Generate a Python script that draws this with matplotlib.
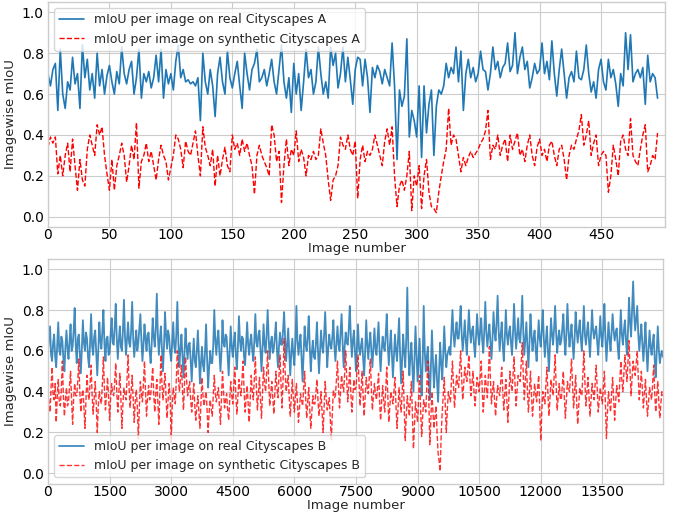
"""Imagewise mIoU on real vs. synthetic Cityscapes (A: val set, B: large set)."""

import numpy as np
import matplotlib
matplotlib.use("Agg")
import matplotlib.pyplot as plt

# --- data (mIoU x100) ---
# set A: every 2nd image, 0..496
step_a = 2
real_a = [
    70, 64, 72, 75, 52, 82, 60, 53, 66, 62,
    78, 65, 70, 53, 84, 68, 77, 62, 70, 58,
    80, 64, 72, 60, 69, 74, 66, 60, 71, 65,
    83, 70, 65, 72, 76, 60, 68, 82, 58, 70,
    66, 71, 63, 68, 79, 66, 82, 58, 72, 65,
    70, 62, 76, 84, 68, 72, 66, 67, 65, 66,
    64, 68, 47, 80, 66, 60, 72, 64, 49, 70,
    78, 66, 60, 81, 68, 63, 70, 76, 64, 53,
    80, 70, 62, 72, 75, 82, 66, 68, 72, 64,
    70, 77, 66, 60, 72, 84, 66, 58, 68, 51,
    75, 60, 70, 52, 66, 82, 68, 72, 60, 66,
    83, 70, 60, 66, 58, 83, 74, 80, 63, 70,
    83, 66, 78, 67, 55, 72, 78, 77, 64, 77,
    68, 51, 73, 68, 74, 71, 65, 72, 68, 64,
    85, 64, 28, 62, 54, 59, 87, 39, 52, 47,
    39, 64, 29, 64, 41, 55, 62, 30, 54, 62,
    60, 64, 75, 68, 73, 70, 83, 66, 81, 52,
    70, 77, 68, 73, 66, 70, 81, 72, 71, 62,
    70, 83, 72, 76, 68, 73, 75, 85, 71, 74,
    90, 70, 78, 83, 72, 76, 63, 68, 75, 70,
    72, 85, 70, 76, 67, 86, 70, 59, 72, 82,
    70, 58, 68, 71, 66, 81, 68, 67, 72, 84,
    70, 61, 66, 58, 72, 77, 66, 62, 77, 68,
    72, 65, 54, 70, 64, 90, 72, 89, 66, 70,
    72, 68, 73, 55, 79, 66, 70, 68, 58,
]
synth_a = [
    34, 39, 36, 39, 21, 30, 20, 30, 36, 22,
    38, 25, 13, 28, 18, 15, 33, 40, 35, 30,
    45, 40, 44, 30, 21, 13, 28, 13, 25, 30,
    36, 30, 17, 25, 35, 28, 46, 14, 27, 30,
    36, 27, 32, 25, 18, 28, 35, 30, 27, 18,
    24, 30, 40, 38, 33, 24, 37, 32, 30, 36,
    42, 30, 20, 44, 34, 30, 25, 33, 15, 30,
    20, 28, 34, 25, 22, 40, 33, 36, 30, 38,
    32, 36, 30, 25, 11, 30, 35, 30, 27, 24,
    20, 45, 40, 27, 32, 7, 25, 38, 25, 33,
    30, 42, 27, 33, 29, 20, 30, 28, 32, 28,
    30, 43, 36, 30, 18, 8, 18, 20, 25, 39,
    35, 33, 40, 33, 30, 37, 9, 28, 35, 27,
    32, 30, 33, 40, 35, 30, 25, 37, 43, 35,
    44, 20, 5, 15, 18, 13, 20, 32, 3, 20,
    15, 25, 4, 20, 28, 12, 5, 4, 2, 12,
    20, 27, 33, 53, 35, 40, 38, 30, 22, 29,
    25, 29, 32, 29, 31, 33, 36, 38, 42, 52,
    28, 35, 33, 40, 30, 35, 38, 27, 40, 33,
    37, 41, 30, 33, 27, 35, 40, 30, 25, 34,
    38, 30, 33, 27, 35, 37, 30, 25, 33, 35,
    28, 18, 30, 35, 33, 38, 42, 50, 35, 40,
    47, 30, 36, 40, 25, 30, 32, 30, 12, 20,
    35, 28, 20, 37, 40, 33, 30, 48, 30, 27,
    25, 33, 40, 45, 22, 25, 30, 28, 41,
]

# set B: every 25th image, 0..14975
step_b = 25
real_b = [
    60, 66, 72, 58, 55, 64, 68, 57, 52, 63, 74, 60, 58, 67, 65, 56, 50, 62, 70, 61,
    56, 65, 73, 60, 62, 70, 81, 63, 54, 66, 68, 58, 49, 61, 75, 64, 60, 69, 66, 57,
    52, 64, 78, 62, 58, 67, 70, 59, 48, 60, 74, 65, 61, 70, 80, 63, 55, 66, 67, 58,
    59, 68, 76, 64, 63, 72, 83, 66, 56, 65, 72, 62, 60, 70, 85, 67, 58, 66, 74, 64,
    62, 70, 84, 66, 57, 64, 70, 60, 64, 71, 78, 65, 55, 63, 73, 66, 60, 68, 69, 60,
    54, 63, 76, 67, 62, 71, 88, 68, 58, 66, 72, 61, 50, 62, 79, 68, 61, 70, 67, 59,
    55, 64, 74, 62, 59, 68, 84, 64, 52, 61, 68, 58, 47, 59, 71, 62, 56, 63, 64, 55,
    45, 57, 66, 55, 52, 60, 70, 58, 44, 54, 62, 53, 50, 60, 73, 56, 42, 52, 60, 54,
    54, 63, 80, 65, 58, 66, 70, 59, 50, 60, 75, 64, 62, 68, 67, 57, 48, 60, 72, 62,
    57, 64, 69, 58, 51, 62, 77, 65, 60, 67, 66, 57, 53, 63, 74, 63, 58, 65, 68, 60,
    55, 65, 78, 64, 62, 68, 70, 60, 50, 61, 73, 63, 59, 68, 80, 66, 56, 64, 67, 59,
    61, 67, 74, 61, 52, 62, 69, 63, 63, 70, 79, 66, 55, 63, 71, 60, 48, 59, 66, 58,
    53, 64, 82, 65, 58, 64, 68, 56, 45, 58, 72, 63, 60, 67, 77, 62, 50, 59, 65, 57,
    56, 64, 74, 60, 49, 60, 70, 62, 59, 68, 79, 65, 52, 61, 68, 63, 61, 67, 75, 62,
    55, 64, 72, 63, 60, 69, 78, 64, 52, 62, 69, 64, 63, 71, 82, 67, 57, 65, 70, 60,
    50, 62, 73, 61, 58, 63, 66, 56, 48, 60, 75, 63, 56, 64, 69, 60, 52, 62, 71, 61,
    58, 66, 74, 60, 50, 60, 67, 62, 60, 68, 78, 63, 53, 62, 70, 58, 47, 58, 68, 60,
    55, 65, 76, 58, 44, 56, 68, 59, 52, 66, 91, 62, 48, 57, 64, 52, 40, 56, 72, 58,
    45, 56, 66, 50, 38, 55, 82, 60, 50, 57, 62, 48, 36, 52, 70, 55, 42, 51, 58, 45,
    35, 50, 64, 54, 46, 58, 72, 60, 52, 58, 60, 62, 58, 70, 80, 68, 62, 69, 74, 66,
    66, 73, 82, 68, 60, 67, 75, 65, 58, 69, 80, 70, 64, 70, 72, 63, 57, 67, 78, 68,
    63, 70, 76, 65, 59, 70, 84, 69, 62, 68, 73, 64, 56, 66, 79, 69, 65, 74, 87, 70,
    60, 68, 74, 63, 55, 66, 80, 68, 63, 69, 72, 64, 58, 69, 83, 70, 61, 68, 76, 66,
    64, 73, 87, 69, 58, 66, 74, 62, 52, 64, 78, 68, 60, 66, 70, 61, 55, 65, 75, 66,
    62, 70, 80, 66, 57, 65, 72, 60, 50, 63, 76, 68, 63, 71, 82, 69, 59, 66, 70, 63,
    65, 71, 78, 66, 58, 69, 83, 70, 62, 68, 73, 64, 56, 66, 79, 70, 64, 70, 75, 66,
    60, 70, 82, 68, 63, 69, 74, 65, 57, 68, 80, 70, 66, 70, 72, 64, 58, 67, 77, 67,
    62, 71, 83, 66, 55, 65, 74, 66, 60, 69, 78, 70, 65, 69, 71, 62, 56, 67, 80, 68,
    63, 70, 75, 65, 58, 70, 86, 74, 67, 80, 94, 78, 70, 76, 82, 68, 60, 67, 73, 63,
    55, 64, 74, 60, 50, 61, 70, 62, 58, 64, 68, 56, 47, 59, 72, 61, 54, 58, 60, 57,
]
synth_b = [
    40, 34, 30, 42, 52, 38, 36, 44, 25, 37, 46, 35, 33, 41, 55, 38, 28, 36, 42, 33,
    35, 43, 50, 36, 24, 37, 44, 38, 38, 45, 56, 40, 30, 38, 41, 33, 22, 36, 48, 39,
    36, 44, 53, 38, 29, 37, 45, 34, 20, 33, 40, 36, 34, 44, 57, 41, 31, 39, 47, 38,
    26, 37, 44, 39, 38, 45, 54, 40, 30, 40, 49, 37, 22, 34, 42, 38, 36, 46, 58, 42,
    32, 40, 48, 36, 25, 35, 41, 33, 17, 32, 45, 39, 35, 44, 55, 40, 28, 37, 43, 36,
    38, 45, 52, 39, 30, 39, 46, 35, 24, 40, 58, 44, 36, 43, 49, 37, 27, 36, 44, 37,
    15, 32, 42, 38, 34, 46, 60, 47, 40, 46, 53, 41, 31, 44, 57, 46, 38, 42, 45, 36,
    30, 37, 44, 33, 26, 33, 38, 30, 22, 35, 47, 38, 33, 37, 40, 31, 20, 30, 36, 32,
    28, 38, 48, 39, 35, 39, 42, 33, 24, 37, 50, 40, 32, 36, 39, 31, 26, 36, 45, 38,
    34, 43, 52, 38, 29, 38, 46, 41, 38, 46, 55, 41, 30, 37, 43, 34, 25, 37, 48, 40,
    36, 46, 57, 42, 31, 39, 47, 36, 27, 40, 52, 44, 40, 49, 60, 45, 33, 39, 45, 37,
    29, 40, 50, 42, 37, 47, 58, 44, 32, 46, 66, 50, 40, 44, 48, 37, 28, 37, 46, 37,
    30, 37, 44, 34, 25, 32, 39, 36, 33, 41, 50, 37, 27, 35, 42, 31, 22, 30, 38, 34,
    34, 40, 46, 36, 28, 34, 40, 30, 20, 33, 45, 37, 31, 34, 37, 27, 16, 30, 41, 37,
    38, 46, 55, 42, 32, 40, 48, 43, 40, 49, 60, 46, 35, 43, 52, 40, 30, 38, 46, 41,
    42, 50, 58, 44, 33, 41, 50, 38, 28, 38, 47, 42, 39, 47, 56, 42, 31, 38, 44, 39,
    36, 42, 49, 36, 26, 35, 43, 36, 30, 41, 52, 38, 25, 33, 40, 37, 34, 40, 47, 33,
    22, 32, 42, 35, 30, 40, 50, 32, 16, 28, 38, 33, 28, 37, 45, 28, 12, 24, 35, 30,
    25, 36, 48, 31, 18, 28, 36, 33, 30, 42, 55, 34, 14, 27, 40, 30, 22, 28, 33, 20,
    10, 6, 1, 18, 30, 38, 47, 33, 20, 31, 40, 37, 35, 45, 55, 43, 32, 40, 48, 44,
    42, 51, 60, 46, 36, 44, 52, 48, 45, 51, 58, 46, 38, 44, 50, 40, 33, 40, 47, 44,
    40, 47, 55, 41, 30, 39, 48, 42, 37, 48, 62, 46, 34, 40, 45, 36, 28, 36, 43, 40,
    38, 45, 52, 40, 31, 39, 46, 35, 25, 38, 50, 44, 40, 48, 57, 43, 33, 41, 48, 46,
    45, 54, 64, 48, 36, 46, 55, 41, 30, 40, 50, 38, 28, 36, 44, 39, 35, 42, 48, 32,
    16, 30, 40, 37, 34, 43, 52, 39, 28, 37, 46, 42, 38, 47, 58, 43, 31, 37, 44, 37,
    36, 43, 50, 37, 27, 36, 45, 42, 40, 48, 56, 43, 32, 40, 48, 35, 24, 33, 42, 39,
    38, 48, 60, 45, 33, 40, 47, 37, 28, 36, 44, 40, 36, 44, 53, 41, 30, 36, 42, 38,
    34, 42, 50, 33, 17, 30, 40, 35, 30, 39, 47, 36, 26, 35, 43, 39, 35, 45, 55, 46,
    40, 49, 58, 51, 45, 55, 65, 50, 38, 47, 55, 51, 48, 54, 60, 47, 36, 43, 50, 41,
    32, 39, 46, 36, 28, 35, 42, 39, 36, 44, 53, 40, 30, 38, 45, 35, 27, 34, 40, 38,
]

labels_a = ["mIoU per image on real Cityscapes A",
            "mIoU per image on synthetic Cityscapes A"]
labels_b = ["mIoU per image on real Cityscapes B",
            "mIoU per image on synthetic Cityscapes B"]
xticks_a = np.arange(0, 500, 50)
xticks_b = np.arange(0, 15000, 1500)


def style_axes(ax):
    ax.set_ylim(-0.05, 1.05)
    ax.set_xlabel("Image number", fontsize=9.5, labelpad=0)
    ax.set_ylabel("Imagewise mIoU", fontsize=9.5)
    ax.yaxis.set_label_coords(-0.05, 0.5)
    ax.tick_params(axis="both", labelsize=10, colors="black")
    ax.tick_params(axis="x", pad=1)
    ax.tick_params(axis="y", pad=3)


def main():
    plt.style.use("seaborn-v0_8-whitegrid")
    plt.rcParams["font.family"] = ["DejaVu Sans"]
    plt.rcParams["font.size"] = 10

    fig = plt.figure(figsize=(6.73, 5.13), dpi=100)
    ax1 = fig.add_axes([0.0713, 0.5575, 0.9167, 0.4385])
    ax2 = fig.add_axes([0.0713, 0.0575, 0.9137, 0.4376])

    # top: set A
    xa = np.arange(len(real_a)) * step_a
    ax1.plot(xa, np.array(real_a) / 100, color="tab:blue", lw=1.2,
             label=labels_a[0])
    ax1.plot(xa, np.array(synth_a) / 100, "r--", lw=1.0, label=labels_a[1])
    ax1.set_xlim(0, 502)
    ax1.set_xticks(xticks_a)
    style_axes(ax1)
    ax1.legend(loc="upper left", frameon=True, fontsize=9)

    # bottom: set B
    xb = np.arange(len(real_b)) * step_b
    ax2.plot(xb, np.array(real_b) / 100, color="tab:blue", lw=1.3,
             alpha=0.85, label=labels_b[0])
    ax2.plot(xb, np.array(synth_b) / 100, "r--", lw=1.0, alpha=0.8,
             label=labels_b[1])
    ax2.set_xlim(0, 14975)
    ax2.set_xticks(xticks_b)
    style_axes(ax2)
    ax2.legend(loc="lower left", frameon=True, fontsize=9)

    fig.savefig("out.png", dpi=100)
    plt.close(fig)


if __name__ == "__main__":
    main()
